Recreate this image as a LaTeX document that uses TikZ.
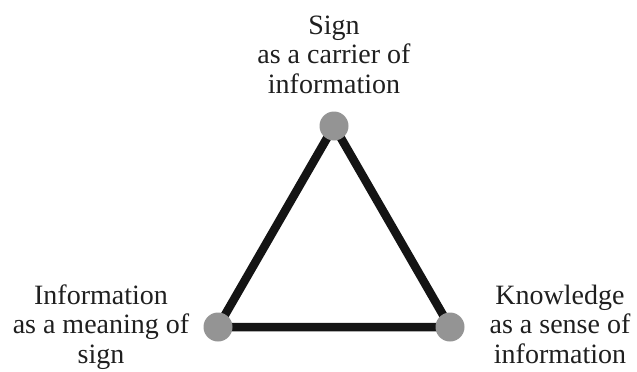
\documentclass[tikz,border=0pt]{standalone}
\usepackage{fontspec}
\setmainfont{Liberation Serif}
\begin{document}
\begin{tikzpicture}[x=1pt,y=-1pt,
  vert/.style={circle,fill=black!42,inner sep=0pt,minimum size=29pt},
  edge/.style={line width=8.5pt,draw=black!92},
  lab/.style={align=center,font=\fontsize{28}{29.5}\selectfont,text=black!88,inner sep=0pt}]
\useasboundingbox (0,0) rectangle (637,372);
\coordinate (T) at (334,126);
\coordinate (L) at (218,327);
\coordinate (R) at (450,327);
\draw[edge] (T) -- (L) -- (R) -- cycle;
\node[vert] (t) at (T) {};
\node[vert] (l) at (L) {};
\node[vert] (r) at (R) {};
\node[lab,anchor=base] (tl) at (334,93) {Sign\\as a carrier of\\information};
\node[lab,anchor=base] (ll) at (101,363) {Information\\as a meaning of\\sign};
\node[lab,anchor=base] (rl) at (560,363) {Knowledge\\as a sense of\\information};
\end{tikzpicture}
\end{document}
